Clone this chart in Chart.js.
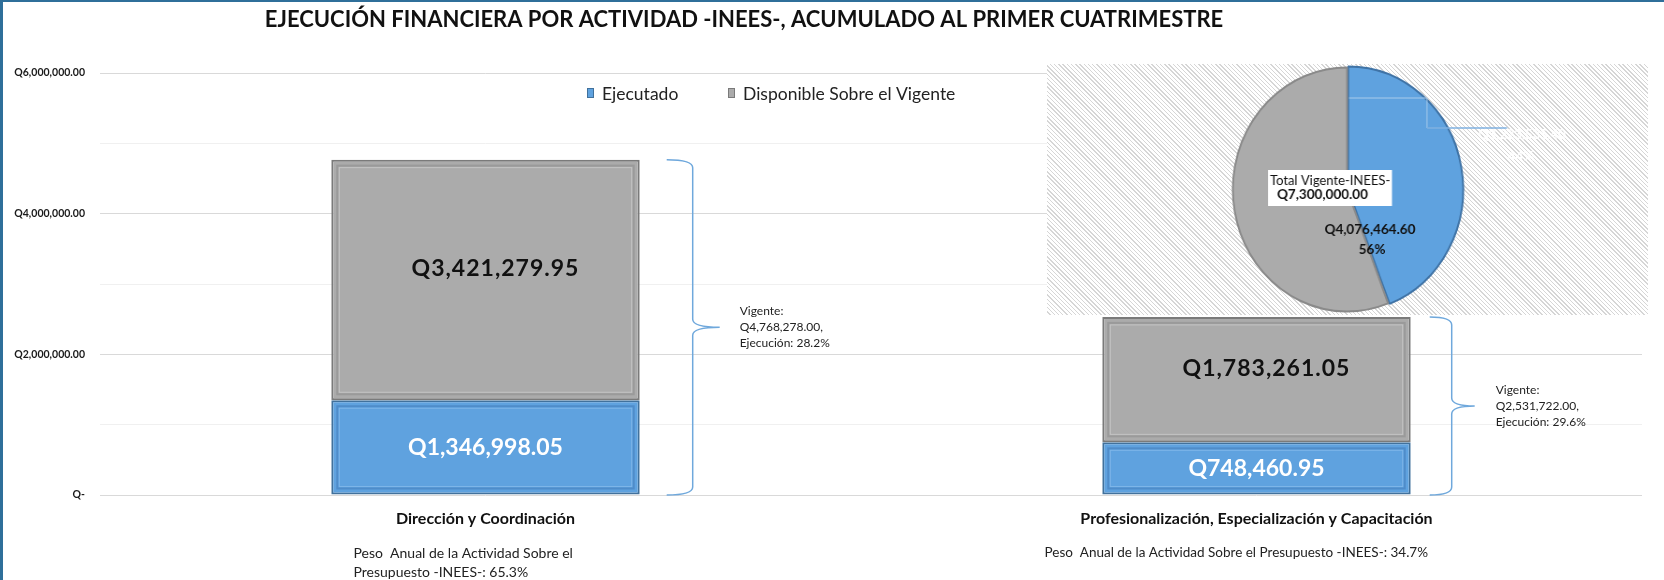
<!DOCTYPE html>
<html>
<head>
<meta charset="utf-8">
<script src="https://cdn.jsdelivr.net/npm/chart.js@4.4.1/dist/chart.umd.min.js"></script>
<style>
  html, body { margin: 0; padding: 0; background: #fff; }
  #wrap { position: relative; width: 1664px; height: 580px; overflow: hidden; }
  #mainChart { position: absolute; left: 0; top: 0; }
  #pieChart {
    position: absolute; left: 1047px; top: 64px;
    background: repeating-linear-gradient(45deg, #ffffff 0px, #ffffff 2px, #d6d6d6 2px, #d6d6d6 3px);
  }
</style>
</head>
<body>
<div id="wrap">
  <canvas id="mainChart" width="1664" height="580"></canvas>
  <!-- inline size on purpose: the canvas is squeezed a bit so the pie looks like the excel ellipse -->
  <canvas id="pieChart" width="642" height="251" style="width:601px;height:251px;"></canvas>
</div>
<script>
const chartTitle = "EJECUCIÓN FINANCIERA POR ACTIVIDAD -INEES-, ACUMULADO AL PRIMER CUATRIMESTRE";
const categories = ["Dirección y Coordinación", "Profesionalización, Especialización y Capacitación"];
const seriesNames = ["Ejecutado", "Disponible Sobre el Vigente"];
const ejecutado = [1346998.05, 748460.95];
const disponible = [3421279.95, 1783261.05];
const vigente = [4768278.00, 2531722.00];
const pesoText = [
    ["Peso  Anual de la Actividad Sobre el", "Presupuesto -INEES-: 65.3%"],
    ["Peso  Anual de la Actividad Sobre el Presupuesto -INEES-: 34.7%"]
];
const yTicks = [0, 2000000, 4000000, 6000000];

const pieLabels = ["Segmento 1", "Segmento 2"];
const pieValues = [3223535.40, 4076464.60];
const totalLabel = "Total Vigente-INEES-";
const totalVigente = 7300000.00;

const FONT = "Lato, 'Open Sans', sans-serif";
const BLUE = "#5fa2df";
const GREY = "#ababab";

function fmtQ(v) {
    return "Q" + v.toLocaleString("en-US", { minimumFractionDigits: 2, maximumFractionDigits: 2 });
}

function drawBrace(ctx, xEnd, xSpine, xTip, yTop, yBot) {
    const yMid = (yTop + yBot) / 2;
    const r = 8;
    ctx.beginPath();
    ctx.moveTo(xEnd, yTop);
    ctx.quadraticCurveTo(xSpine, yTop, xSpine, yTop + r);
    ctx.lineTo(xSpine, yMid - r);
    ctx.quadraticCurveTo(xSpine, yMid, xTip, yMid);
    ctx.quadraticCurveTo(xSpine, yMid, xSpine, yMid + r);
    ctx.lineTo(xSpine, yBot - r);
    ctx.quadraticCurveTo(xSpine, yBot, xEnd, yBot);
    ctx.stroke();
}

const decorPlugin = {
    id: "decor",
    beforeDraw(chart) {
        const ctx = chart.ctx;
        ctx.save();
        ctx.fillStyle = "#fff";
        ctx.fillRect(0, 0, chart.width, chart.height);
        ctx.restore();
    },
    afterDatasetsDraw(chart) {
        const ctx = chart.ctx;
        ctx.save();
        // inner bevel on the bars
        chart.data.datasets.forEach((ds, di) => {
            chart.getDatasetMeta(di).data.forEach(bar => {
                const p = bar.getProps(["x", "y", "base", "width"], true);
                const left = p.x - p.width / 2;
                const top = Math.min(p.y, p.base);
                const h = Math.abs(p.base - p.y);
                ctx.lineWidth = 2;
                ctx.strokeStyle = di === 0 ? "#4f8cc9" : "#9a9a9a";
                ctx.strokeRect(left + 6, top + 6, p.width - 12, h - 12);
                ctx.strokeStyle = di === 0 ? "#7db5e8" : "#c4c4c4";
                ctx.lineWidth = 1;
                ctx.strokeRect(left + 8, top + 8, p.width - 16, h - 16);
            });
        });

        // value labels
        ctx.textAlign = "center";
        ctx.textBaseline = "middle";
        chart.data.datasets.forEach((ds, di) => {
            chart.getDatasetMeta(di).data.forEach((bar, i) => {
                const p = bar.getProps(["x", "y", "base"], true);
                const yc = (p.y + p.base) / 2;
                if (di === 0) {
                    ctx.letterSpacing = "0px";
                    ctx.fillStyle = "#ffffff";
                    ctx.font = "bold 23px " + FONT;
                    ctx.fillText(fmtQ(ds.data[i]), p.x, yc);
                } else {
                    ctx.letterSpacing = "1px";
                    ctx.fillStyle = "#111111";
                    ctx.font = "bold 23px " + FONT;
                    ctx.fillText(fmtQ(ds.data[i]), p.x + 10, yc - 11);
                }
            });
        });
        ctx.letterSpacing = "0px";

        // braces with vigente / ejecución
        const yScale = chart.scales.y;
        const braceOff = [[27, 53, 80, 100], [19, 41, 64, 85]];
        chart.getDatasetMeta(1).data.forEach((bar, i) => {
            const p = bar.getProps(["x", "width"], true);
            const right = p.x + p.width / 2;
            const o = braceOff[i];
            const yTop = yScale.getPixelForValue(vigente[i]);
            const yBot = yScale.getPixelForValue(0);
            ctx.strokeStyle = "#6fa8dc";
            ctx.lineWidth = 1.5;
            drawBrace(ctx, right + o[0], right + o[1], right + o[2], yTop, yBot);
            const pct = (ejecutado[i] / vigente[i] * 100).toFixed(1) + "%";
            const lines = ["Vigente:", fmtQ(vigente[i]) + ",", "Ejecución: " + pct];
            ctx.fillStyle = "#222";
            ctx.font = "12px " + FONT;
            ctx.textAlign = "left";
            const yMid = (yTop + yBot) / 2;
            lines.forEach((t, k) => ctx.fillText(t, right + o[3], yMid + (k - 1) * 16));
        });

        // category labels and peso notes
        const xScale = chart.scales.x;
        const pesoShift = [-132, -212];
        const pesoSize = [14, 13.5];
        categories.forEach((c, i) => {
            const cx = xScale.getPixelForValue(i);
            ctx.textAlign = "center";
            ctx.fillStyle = "#111";
            ctx.font = "bold 16px " + FONT;
            ctx.fillText(c, cx, 519);
            ctx.textAlign = "left";
            ctx.font = pesoSize[i] + "px " + FONT;
            ctx.fillStyle = "#222";
            pesoText[i].forEach((t, k) => ctx.fillText(t, cx + pesoShift[i], 553 + k * 19));
        });

        // title
        ctx.textAlign = "center";
        ctx.fillStyle = "#111";
        ctx.font = "bold 22px " + FONT;
        ctx.fillText(chartTitle, 744, 20);

        // legend
        const legend = [{ x: 587, color: BLUE, edge: "#41719c" }, { x: 728, color: GREY, edge: "#7a7a7a" }];
        ctx.font = "17.5px " + FONT;
        ctx.textAlign = "left";
        legend.forEach((l, i) => {
            ctx.fillStyle = l.color;
            ctx.fillRect(l.x, 88, 7, 10);
            ctx.strokeStyle = l.edge;
            ctx.lineWidth = 1;
            ctx.strokeRect(l.x + 0.5, 88.5, 6, 9);
            ctx.fillStyle = "#222";
            ctx.fillText(seriesNames[i], l.x + 15, 94);
        });

        // frame
        ctx.fillStyle = "#2f6f9a";
        ctx.fillRect(0, 0, 3, chart.height);
        ctx.fillRect(0, 0, chart.width, 2);
        ctx.restore();
    }
};

new Chart(document.getElementById("mainChart"), {
    type: "bar",
    data: {
        labels: categories,
        datasets: [
            { label: seriesNames[0], data: ejecutado, backgroundColor: BLUE, borderColor: "#41719c", borderWidth: 2, borderSkipped: false },
            { label: seriesNames[1], data: disponible, backgroundColor: GREY, borderColor: "#7a7a7a", borderWidth: 2, borderSkipped: false }
        ]
    },
    options: {
        responsive: false,
        animation: false,
        layout: { padding: { left: 0, right: 22, top: 73, bottom: 85 } },
        datasets: { bar: { categoryPercentage: 0.8, barPercentage: 0.5 } },
        plugins: {
            legend: { display: false },
            title: { display: false },
            tooltip: { enabled: false }
        },
        scales: {
            x: { stacked: true, display: false },
            y: {
                stacked: true,
                min: 0,
                max: 6000000,
                afterFit: s => { s.width = 100; },
                border: { display: false },
                grid: {
                    drawTicks: false,
                    color: c => (c.tick && yTicks.includes(c.tick.value)) ? "#d9d9d9" : "#f0f0f0"
                },
                ticks: {
                    stepSize: 1000000,
                    padding: 15,
                    color: "#1a1a1a",
                    font: { family: FONT, weight: "bold", size: 10.5 },
                    callback: v => yTicks.includes(v) ? (v === 0 ? "Q-" : fmtQ(v)) : ""
                }
            }
        }
    },
    plugins: [decorPlugin]
});

// pie canvas: 642 wide drawn into 601 css px
const PX = 1047, PY = 64, SX = 601 / 642;

function pageText(ctx, text, px, py, font, color, align) {
    ctx.save();
    ctx.translate((px - PX) / SX, py - PY);
    ctx.scale(1 / SX, 1);
    ctx.font = font;
    ctx.fillStyle = color;
    ctx.textAlign = align || "center";
    ctx.textBaseline = "middle";
    ctx.fillText(text, 0, 0);
    ctx.restore();
}

const pieTextPlugin = {
    id: "pieText",
    afterDraw(chart) {
        const ctx = chart.ctx;
        const cx = x => (x - PX) / SX;
        const cy = y => y - PY;
        const pct = pieValues.map(v => Math.round(v / totalVigente * 100) + "%");

        // leader line for the first slice
        ctx.save();
        ctx.strokeStyle = "#a9cbeb";
        ctx.lineWidth = 1;
        ctx.beginPath();
        ctx.moveTo(cx(1349), cy(98));
        ctx.lineTo(cx(1427), cy(98));
        ctx.lineTo(cx(1427), cy(128));
        ctx.stroke();
        ctx.strokeStyle = "#7fb0e0";
        ctx.lineWidth = 1.5;
        ctx.beginPath();
        ctx.moveTo(cx(1427), cy(128));
        ctx.lineTo(cx(1507), cy(128));
        ctx.stroke();

        // total box
        ctx.fillStyle = "#ffffff";
        ctx.fillRect(cx(1268), cy(170), (1392 - 1268) / SX, 36);
        ctx.restore();

        pageText(ctx, totalLabel, 1270, 181, "13px " + FONT, "#111", "left");
        pageText(ctx, fmtQ(totalVigente), 1277, 195, "bold 13.5px " + FONT, "#111", "left");

        pageText(ctx, fmtQ(pieValues[1]), 1370, 230, "bold 13.5px " + FONT, "#111");
        pageText(ctx, pct[1], 1372, 250, "bold 13.5px " + FONT, "#111");

        pageText(ctx, fmtQ(pieValues[0]), 1522, 135, "bold 13px " + FONT, "#ffffff");
        pageText(ctx, pct[0], 1521, 157, "bold 13px " + FONT, "#ffffff");
    }
};

new Chart(document.getElementById("pieChart"), {
    type: "pie",
    data: {
        labels: pieLabels,
        datasets: [{
            data: pieValues,
            backgroundColor: [BLUE, GREY],
            borderColor: ["#3f73a6", "#8a8a8a"],
            borderWidth: 2,
            offset: [5, 0],
            radius: 122
        }]
    },
    options: {
        responsive: false,
        animation: false,
        layout: { padding: { left: 0, right: 1, top: 0, bottom: 0 } },
        plugins: { legend: { display: false }, tooltip: { enabled: false } }
    },
    plugins: [pieTextPlugin]
});
</script>
</body>
</html>
